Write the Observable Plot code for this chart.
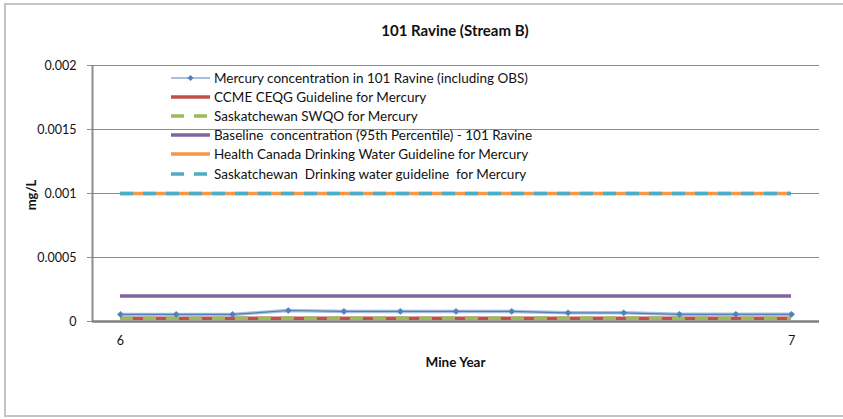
<!DOCTYPE html>
<html>
<head>
<meta charset="utf-8">
<script src="https://cdn.jsdelivr.net/npm/d3@7"></script>
<script src="https://cdn.jsdelivr.net/npm/@observablehq/plot@0.6"></script>
<style>
  body { margin: 0; background: #fff; }
  #wrap { position: relative; width: 843px; height: 419px; overflow: hidden; font-family: Lato, "Open Sans", sans-serif; }
  #wrap svg.plot { position: absolute; left: 0; top: 0; }
  .frame { position: absolute; left: 4px; top: 3px; width: 845px; height: 414px; border: 2px solid #c4c4c4; box-sizing: border-box; pointer-events: none; }
  .title { position: absolute; left: 0; width: 910px; top: 21px; text-align: center; font-weight: bold; font-size: 15px; color: #111; }
  .xlabel { position: absolute; left: 0; width: 911px; top: 354px; text-align: center; font-weight: bold; font-size: 13.5px; color: #111; }
  .ylabel { position: absolute; left: 31px; top: 195px; transform: translate(-50%, -50%) rotate(-90deg); font-weight: bold; font-size: 13px; color: #111; }
  .legend { position: absolute; left: 170px; top: 68.5px; font-size: 13.5px; color: #111; }
  .legend .row { height: 19.1px; display: flex; align-items: center; white-space: pre; }
  .legend svg { margin-right: 3px; }
</style>
</head>
<body>
<div id="wrap"></div>
<script>
// ---- data ----
const mineYear = [6, 6.083, 6.167, 6.25, 6.333, 6.417, 6.5, 6.583, 6.667, 6.75, 6.833, 6.917, 7];
const mercury = [0.000055, 0.000055, 0.000055, 0.000086, 0.000079, 0.000079, 0.000079, 0.000079, 0.000068, 0.000068, 0.000056, 0.000056, 0.000056];
const seriesNames = [
  "Mercury concentration in 101 Ravine (including OBS)",
  "CCME CEQG Guideline for Mercury",
  "Saskatchewan SWQO for Mercury",
  "Baseline  concentration (95th Percentile) - 101 Ravine",
  "Health Canada Drinking Water Guideline for Mercury",
  "Saskatchewan  Drinking water guideline  for Mercury"
];
const guidelineValues = [0.000026, 0.000026, 0.0002, 0.001, 0.001];
const guidelineStart = 6;
const guidelineEnd = 7;
const seriesColors = ["#4F81BD", "#C0504D", "#9BBB59", "#8064A2", "#F79646", "#4BACC6"];
const seriesDash = [null, null, "13,10", null, null, "13,10"];
const seriesWidth = [1.5, 3.5, 3.5, 3.5, 3.5, 3.5];
const yTicks = [0, 0.0005, 0.001, 0.0015, 0.002];
const yTickLabels = ["0", "0.0005", "0.001", "0.0015", "0.002"];
const xTicks = [6, 7];
const xTickLabels = ["6", "7"];

// ---- tables ----
const obs = mineYear.map((x, i) => ({x, y: mercury[i]}));
const guides = guidelineValues.map((v, i) => ({
  name: seriesNames[i + 1], value: v, color: seriesColors[i + 1],
  dash: seriesDash[i + 1], width: seriesWidth[i + 1]
}));

const W = 843, H = 419;
const chart = Plot.plot({
  width: W, height: H,
  marginLeft: 92, marginRight: 24, marginTop: 65, marginBottom: 98,
  style: {fontFamily: "Lato, 'Open Sans', sans-serif", fontSize: "12px", color: "#111", background: "transparent"},
  x: {domain: [5.9583, 7.0417]},
  y: {domain: [0, 0.002]},
  marks: [
    Plot.gridY(yTicks, {stroke: "#8c8c8c", strokeOpacity: 1, strokeWidth: 1}),
    Plot.axisY(yTicks, {tickFormat: (d) => yTickLabels[yTicks.indexOf(d)], tickSize: 5, tickPadding: 11, stroke: "#8c8c8c", label: null, fontSize: 12.5}),
    Plot.ruleX([0], {x: () => 5.9583, stroke: "#8c8c8c", strokeWidth: 2}),
    Plot.axisX(xTicks, {tickFormat: d => xTickLabels[xTicks.indexOf(d)], tickSize: 0, tickPadding: 15, label: null, fontSize: 12.5}),
    ...guides.map(g => Plot.ruleY([g], {
      y: "value", x1: () => guidelineStart, x2: () => guidelineEnd,
      stroke: g.color, strokeWidth: g.width, strokeDasharray: g.dash
    })),
    Plot.line(obs, {x: "x", y: "y", stroke: "#a9c1e0", strokeWidth: 3.5}),
    Plot.line(obs, {x: "x", y: "y", stroke: seriesColors[0], strokeWidth: 1.2}),
    Plot.dot(obs, {x: "x", y: "y", symbol: "diamond2", r: 2.8, fill: seriesColors[0], stroke: seriesColors[0], strokeWidth: 0.5}),
    Plot.ruleY([0], {stroke: "#808080", strokeWidth: 2.5})
  ]
});
chart.classList.add("plot");
const wrap = document.getElementById("wrap");
wrap.appendChild(chart);

function addDiv(cls, text) {
  const d = document.createElement("div");
  d.className = cls;
  if (text) d.textContent = text;
  wrap.appendChild(d);
  return d;
}
addDiv("frame");
addDiv("title", "101 Ravine (Stream B)");
addDiv("xlabel", "Mine Year");
addDiv("ylabel", "mg/L");

const legend = addDiv("legend");
seriesNames.forEach((name, i) => {
  const row = document.createElement("div");
  row.className = "row";
  const ns = "http://www.w3.org/2000/svg";
  const s = document.createElementNS(ns, "svg");
  s.setAttribute("width", 41); s.setAttribute("height", 10);
  const l = document.createElementNS(ns, "line");
  l.setAttribute("x1", 1); l.setAttribute("x2", 40); l.setAttribute("y1", 5); l.setAttribute("y2", 5);
  l.setAttribute("stroke", seriesColors[i]);
  l.setAttribute("stroke-width", i === 0 ? 1.2 : seriesWidth[i]);
  if (seriesDash[i]) l.setAttribute("stroke-dasharray", seriesDash[i]);
  s.appendChild(l);
  if (i === 0) {
    const p = document.createElementNS(ns, "path");
    p.setAttribute("d", "M20.5,2 L23.5,5 L20.5,8 L17.5,5 Z");
    p.setAttribute("fill", seriesColors[0]);
    s.appendChild(p);
  }
  row.appendChild(s);
  row.appendChild(document.createTextNode(name));
  legend.appendChild(row);
});
</script>
</body>
</html>
